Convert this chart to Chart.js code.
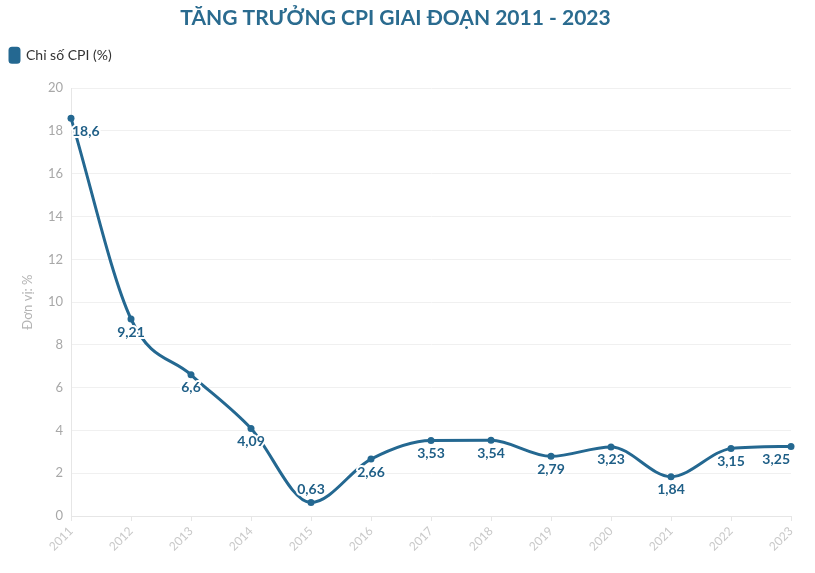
<!DOCTYPE html>
<html>
<head>
<meta charset="utf-8">
<script src="https://cdn.jsdelivr.net/npm/chart.js@4.4.0/dist/chart.umd.min.js"></script>
<style>
  html, body { margin: 0; padding: 0; background: #fff; }
  #wrap { width: 815px; height: 573px; position: relative; }
</style>
</head>
<body>
<div id="wrap"><canvas id="canvas"></canvas></div>
<script>
var years = ['2011','2012','2013','2014','2015','2016','2017','2018','2019','2020','2021','2022','2023'];
var cpi = [18.6, 9.21, 6.6, 4.09, 0.63, 2.66, 3.53, 3.54, 2.79, 3.23, 1.84, 3.15, 3.25];
var labelAbove = [false, false, false, false, true, false, false, false, false, false, false, false, false];

var lineColor = '#246891';
var fontName = 'Lato, "Open Sans", sans-serif';

// extra room under the legend so the plot starts lower
var legendMargin = {
    id: 'legendMargin',
    beforeInit: function(chart) {
        var origFit = chart.legend.fit;
        chart.legend.fit = function() {
            origFit.bind(chart.legend)();
            this.height += 16;
        };
    }
};

// draws the value under (or over) each point, kept inside the plot area
var valueLabels = {
    id: 'valueLabels',
    afterDatasetsDraw: function(chart) {
        var ctx = chart.ctx;
        var meta = chart.getDatasetMeta(0);
        var area = chart.chartArea;
        ctx.save();
        ctx.font = 'bold 14px ' + fontName;
        ctx.textAlign = 'center';
        ctx.textBaseline = 'middle';
        ctx.lineJoin = 'round';
        meta.data.forEach(function(pt, i) {
            var txt = String(cpi[i]).replace('.', ',');
            var w = ctx.measureText(txt).width;
            var x = pt.x;
            if (x - w / 2 < area.left) x = area.left + w / 2 + 1;
            if (x + w / 2 > area.right) x = area.right - w / 2 - 1;
            var y = labelAbove[i] ? pt.y - 13 : pt.y + 13;
            // white halo like the original
            ctx.strokeStyle = '#fff';
            ctx.lineWidth = 4;
            ctx.strokeText(txt, x, y);
            ctx.fillStyle = '#1f5f87';
            ctx.fillText(txt, x, y);
        });
        ctx.restore();
    }
};

var ctx = document.getElementById('canvas').getContext('2d');
var myChart = new Chart(ctx, {
    type: 'line',
    data: {
        labels: years,
        datasets: [{
            label: 'Chỉ số CPI (%)',
            data: cpi,
            borderColor: lineColor,
            backgroundColor: lineColor,
            borderWidth: 3,
            pointRadius: 3.5,
            pointBackgroundColor: lineColor,
            pointBorderWidth: 0,
            cubicInterpolationMode: 'monotone',
            fill: false
        }]
    },
    options: {
        responsive: true,
        maintainAspectRatio: false,
        animation: false,
        layout: { padding: { left: 0, right: 24, top: 0, bottom: 0 } },
        scales: {
            x: {
                offset: false,
                grid: { drawOnChartArea: false, drawTicks: true, tickLength: 5, color: '#e6e6e6' },
                border: { color: '#e6e6e6' },
                ticks: {
                    color: '#c8c8c8',
                    font: { family: fontName, size: 12 },
                    maxRotation: 45,
                    minRotation: 45,
                    autoSkip: false
                },
                afterFit: function(scale) { scale.height = 57; }
            },
            y: {
                min: 0,
                max: 20,
                ticks: {
                    stepSize: 2,
                    color: '#a8a8a8',
                    font: { family: fontName, size: 13 },
                    padding: 8
                },
                grid: { color: '#f0f0f0', drawTicks: false },
                border: { color: '#e6e6e6' },
                title: {
                    display: true,
                    text: 'Đơn vị: %',
                    color: '#b4b4b4',
                    font: { family: fontName, size: 13 },
                    padding: { top: 20, bottom: 4 }
                },
                afterFit: function(scale) { scale.width = 71; }
            }
        },
        plugins: {
            title: {
                display: true,
                text: 'TĂNG TRƯỞNG CPI GIAI ĐOẠN 2011 - 2023',
                color: '#2a6b8f',
                font: { family: fontName, size: 21, weight: 'bold' },
                padding: { top: 6, bottom: 7 }
            },
            legend: {
                display: true,
                align: 'start',
                labels: {
                    color: '#333',
                    font: { family: fontName, size: 14 },
                    boxWidth: 9,
                    boxHeight: 14,
                    useBorderRadius: true,
                    borderRadius: 2,
                    padding: 10
                }
            },
            tooltip: { enabled: false }
        }
    },
    plugins: [legendMargin, valueLabels]
});
</script>
</body>
</html>
